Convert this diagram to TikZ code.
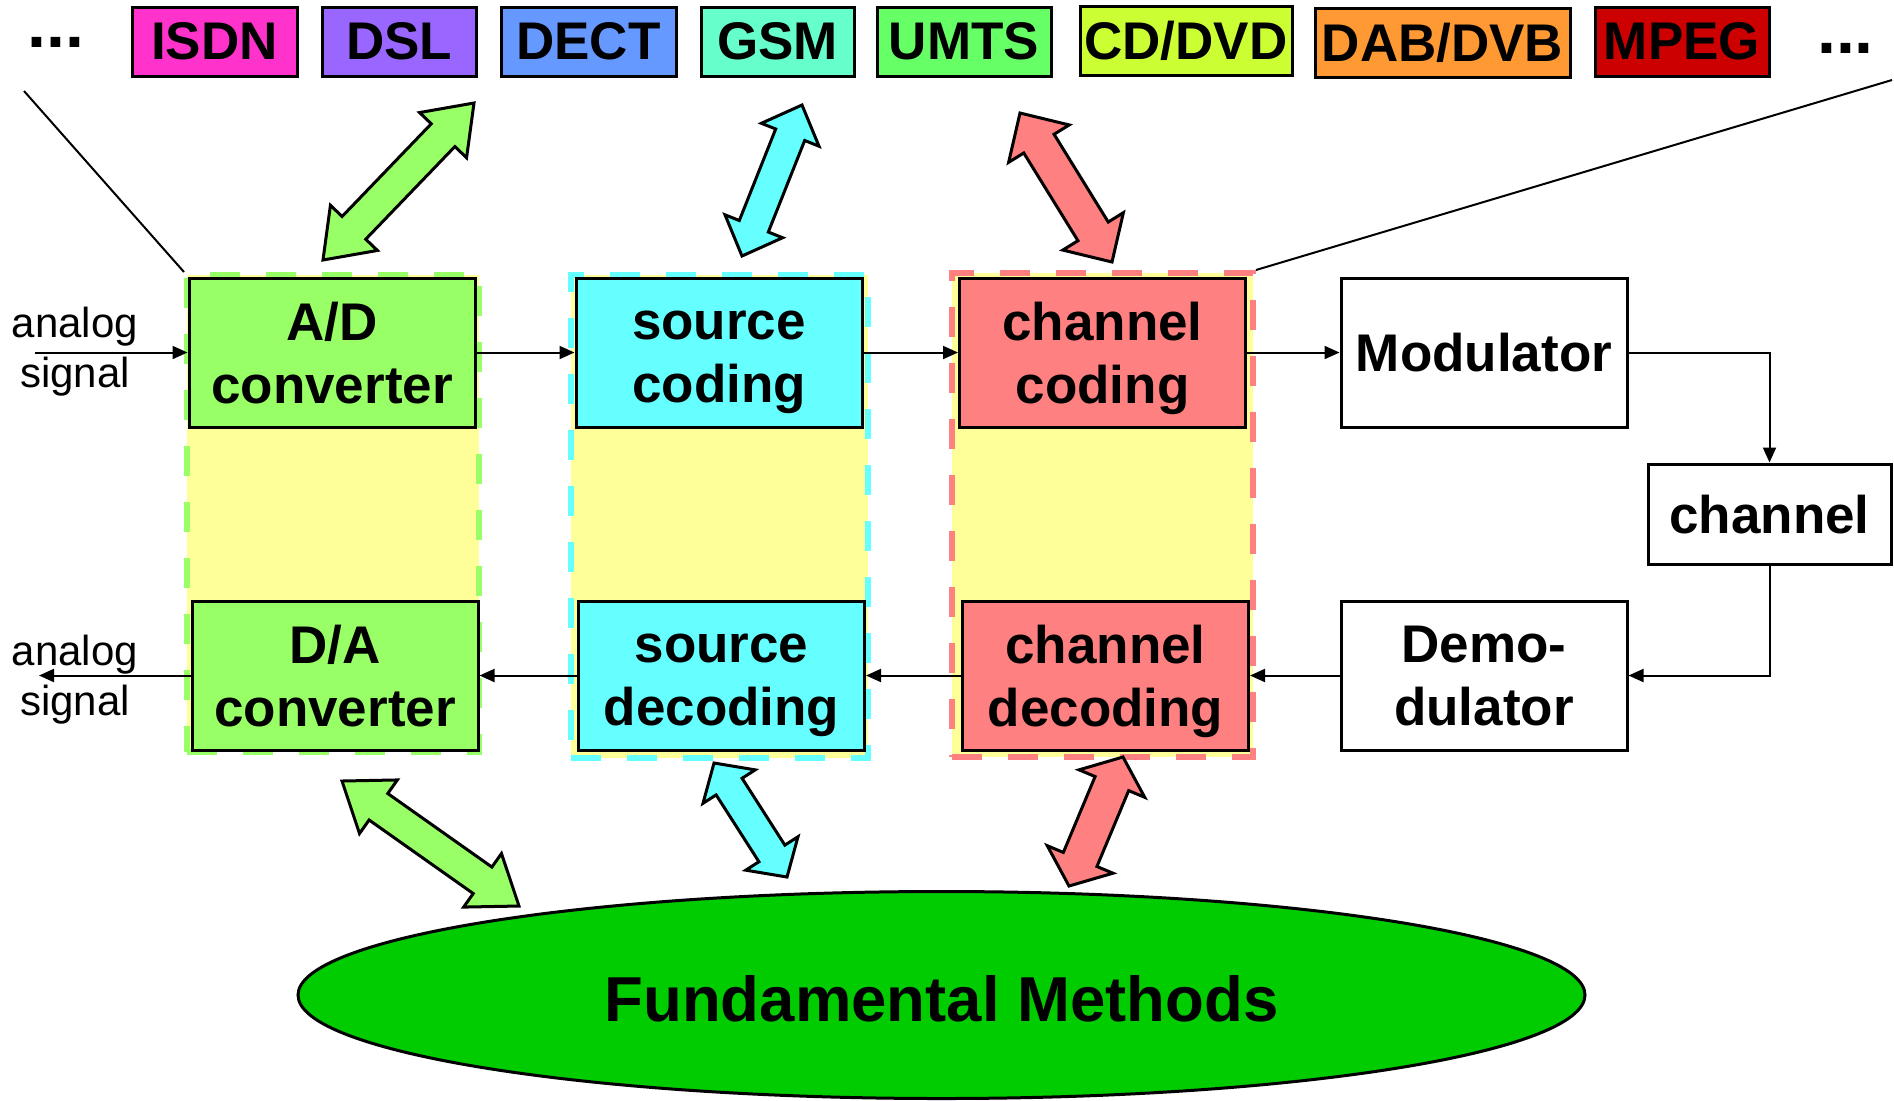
\documentclass[tikz,border=0pt]{standalone}
\usepackage{fontspec}
\setmainfont{Liberation Sans}
\usetikzlibrary{calc,shapes.geometric,arrows.meta}
\definecolor{cISDN}{HTML}{FF33CC}
\definecolor{cDSL}{HTML}{9966FF}
\definecolor{cDECT}{HTML}{6699FF}
\definecolor{cGSM}{HTML}{66FFCC}
\definecolor{cUMTS}{HTML}{66FF66}
\definecolor{cCD}{HTML}{CCFF33}
\definecolor{cDAB}{HTML}{FF9933}
\definecolor{cMPEG}{HTML}{CC0000}
\definecolor{cgreen}{HTML}{99FF66}
\definecolor{ccyan}{HTML}{66FFFF}
\definecolor{cred}{HTML}{FF8080}
\definecolor{cyel}{HTML}{FFFF99}
\definecolor{cfund}{HTML}{00CC00}
\newcommand\tallline{\vphantom{A}}
\newcommand\deepline{\vphantom{g}}
\tikzset{
  tag/.style={draw, line width=1.5pt, font=\bfseries\fontsize{26.5}{31.5}\selectfont, inner sep=0pt, minimum height=34.5pt},
  blk/.style={draw, line width=1.5pt, align=center, font=\bfseries\fontsize{26.5}{31.5}\selectfont, inner sep=0pt, minimum width=143pt, minimum height=74.5pt},
  txt/.style={draw=none, fill=none, yshift=-2.75pt},
  region/.style={draw=#1, fill=cyel, line width=3pt, dash pattern=on 15pt off 13pt, inner sep=0pt},
  conn/.style={line width=1pt, -{Triangle[length=7.5pt,width=6.5pt]}},
  plain/.style={line width=1pt},
  blockarrow/.style={draw, line width=1.5pt, line join=miter},
  lbl/.style={font=\fontsize{21}{25}\selectfont, inner sep=0pt},
  dots/.style={font=\bfseries\fontsize{34}{36}\selectfont, inner sep=0pt},
}
\newcommand\dblarrow[6]{%
  \coordinate (#2-h) at ($(#2)!#4!(#3)$);
  \coordinate (#3-h) at ($(#3)!#4!(#2)$);
  \draw[blockarrow, fill=#1] (#2)
    -- ($(#2-h)!#5!90:(#3)$) -- ($(#2-h)!#6!90:(#3)$)
    -- ($(#3-h)!#6!-90:(#2)$) -- ($(#3-h)!#5!-90:(#2)$)
    -- (#3)
    -- ($(#3-h)!#5!90:(#2)$) -- ($(#3-h)!#6!90:(#2)$)
    -- ($(#2-h)!#6!-90:(#3)$) -- ($(#2-h)!#5!-90:(#3)$)
    -- cycle;
}
\begin{document}
\begin{tikzpicture}[x=0.5pt,y=-0.5pt]
\useasboundingbox (0,0) rectangle (1894,1100);

% top tags
\node[dots] (dl) at (56,42) {...};
\node[tag, fill=cISDN, minimum width=82.5pt] (isdn) at (214.5,41.5) {ISDN};
\node[tag, fill=cDSL, minimum width=77pt] (dsl) at (399,41.5) {DSL};
\node[tag, fill=cDECT, minimum width=87.5pt] (dect) at (588.5,41.5) {DECT};
\node[tag, fill=cGSM, minimum width=76.5pt] (gsm) at (777.5,41.5) {GSM};
\node[tag, fill=cUMTS, minimum width=87pt] (umts) at (964,41.5) {UMTS};
\node[tag, fill=cCD, minimum width=106pt] (cddvd) at (1186,41) {CD/DVD};
\node[tag, fill=cDAB, minimum width=127.5pt] (dab) at (1442.5,43) {DAB/DVB};
\node[tag, fill=cMPEG, minimum width=87pt] (mpeg) at (1682,41.5) {MPEG};
\node[dots] (dr) at (1845.5,48) {...};

% dashed regions
\node[region=cgreen, minimum width=146pt, minimum height=238.5pt] (rg) at (333,513.5) {};
\node[region=ccyan, minimum width=148.5pt, minimum height=241.5pt] (rc) at (719.5,516.5) {};
\node[region=cred, minimum width=150.5pt, minimum height=242pt] (rr) at (1102.5,515) {};

% zoom lines
\coordinate (lt) at (24,91);
\coordinate (rt) at (1892,80);
\draw[plain] (lt) -- (rg.north west);
\draw[plain] (rt) -- (rr.north east);

% blocks
\node[blk, fill=cgreen] (ad) at (332,352.5) {};
\node[blk, fill=ccyan] (sc) at (719,352.5) {};
\node[blk, fill=cred] (cc) at (1102.5,352.5) {};
\node[blk, fill=white] (mod) at (1484,352.5) {};
\node[blk, fill=white, minimum width=121.5pt, minimum height=50pt] (ch) at (1769.5,514) {};
\node[blk, fill=cgreen] (da) at (335,675.5) {};
\node[blk, fill=ccyan] (sd) at (721.5,675.5) {};
\node[blk, fill=cred] (cd) at (1105.5,675.5) {};
\node[blk, fill=white] (dem) at (1484,675.5) {};

\node[blk, txt] (adT) at (ad) {\tallline A/D\\converter\deepline};
\node[blk, txt] (scT) at (sc) {\tallline source\\coding\deepline};
\node[blk, txt] (ccT) at (cc) {\tallline channel\\coding\deepline};
\node[blk, txt] (modT) at (mod) {\tallline Modulator\deepline};
\node[blk, txt, minimum width=121.5pt, minimum height=50pt] (chT) at (ch) {\tallline channel\deepline};
\node[blk, txt] (daT) at (da) {\tallline D/A\\converter\deepline};
\node[blk, txt] (sdT) at (sd) {\tallline source\\decoding\deepline};
\node[blk, txt] (cdT) at (cd) {\tallline channel\\decoding\deepline};
\node[blk, txt] (demT) at (dem) {\tallline Demo-\\dulator\deepline};

% analog signal labels
\node[lbl, anchor=base] (inA) at (75,337) {analog};
\node[lbl, anchor=base] (inB) at (75,387) {signal};
\node[lbl, anchor=base] (outA) at (75,665) {analog};
\node[lbl, anchor=base] (outB) at (75,715) {signal};

% connectors
\coordinate (inS) at (35,352.5);
\coordinate (outE) at (39,675.5);
\draw[conn] (inS) -- (ad.west);
\draw[conn] (ad.east) -- (sc.west);
\draw[conn] (sc.east) -- (cc.west);
\draw[conn] (cc.east) -- (mod.west);
\draw[conn] (mod.east) -| (ch.north);
\draw[conn] (ch.south) |- (dem.east);
\draw[conn] (dem.west) -- (cd.east);
\draw[conn] (cd.west) -- (sd.east);
\draw[conn] (sd.west) -- (da.east);
\draw[conn] (da.west) -- (outE);

% fundamental methods
\node[ellipse, draw, line width=1.5pt, fill=cfund, minimum width=643.5pt, minimum height=103.5pt, inner sep=0pt] (fm) at (941.5,995) {};
\node[font=\bfseries\fontsize{31.75}{36}\selectfont, inner sep=0pt] (fmT) at ([yshift=-2pt]fm.center) {Fundamental Methods};

% block arrows
\coordinate (ga1) at (474,103); \coordinate (ga2) at (323,260);
\dblarrow{cgreen}{ga1}{ga2}{22.3pt}{16.3pt}{8.2pt}
\coordinate (ca1) at (802,105); \coordinate (ca2) at (742,256);
\dblarrow{ccyan}{ca1}{ca2}{16pt}{15.5pt}{7.8pt}
\coordinate (ra1) at (1020,113); \coordinate (ra2) at (1112,262);
\dblarrow{cred}{ra1}{ra2}{18pt}{17.8pt}{8.9pt}
\coordinate (gb1) at (342,781); \coordinate (gb2) at (519,906);
\dblarrow{cgreen}{gb1}{gb2}{22.3pt}{16.4pt}{8.1pt}
\coordinate (cb1) at (714,763); \coordinate (cb2) at (787,877);
\dblarrow{ccyan}{cb1}{cb2}{14pt}{15.5pt}{7.7pt}
\coordinate (rb1) at (1123,757); \coordinate (rb2) at (1069,886);
\dblarrow{cred}{rb1}{rb2}{14.4pt}{17.8pt}{9.1pt}
\end{tikzpicture}
\end{document}
